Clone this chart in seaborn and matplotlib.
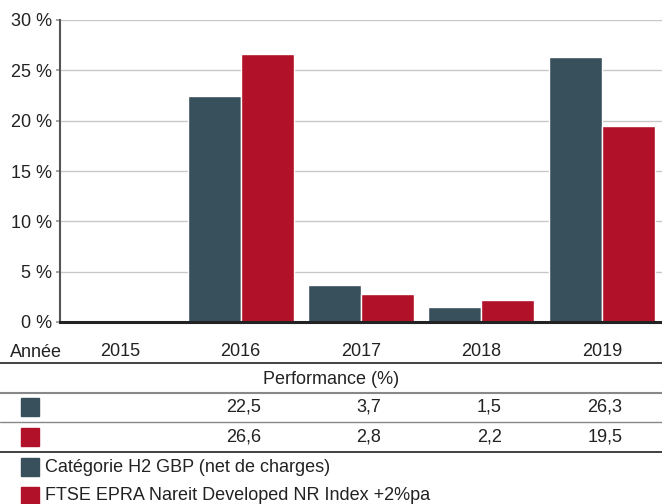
import pandas as pd
import matplotlib.pyplot as plt
import matplotlib.transforms as mtransforms
from matplotlib.lines import Line2D
from matplotlib.patches import Rectangle
import seaborn as sns

# Chart data
years = ['2015', '2016', '2017', '2018', '2019']
fund = [None, 22.5, 3.7, 1.5, 26.3]
index = [None, 26.6, 2.8, 2.2, 19.5]
fund_labels = ['', '22,5', '3,7', '1,5', '26,3']
index_labels = ['', '26,6', '2,8', '2,2', '19,5']
series_names = ['Catégorie H2 GBP (net de charges)',
                'FTSE EPRA Nareit Developed NR Index +2%pa']
colors = ['#384f5c', '#b11229']
yticks = [0, 5, 10, 15, 20, 25, 30]

sns.set_theme(style='white')
plt.rcParams['font.family'] = ['Liberation Sans', 'DejaVu Sans']

# long form table for seaborn (2015 has no values)
rows = []
for yr, a, b in zip(years, fund, index):
    if a is not None:
        rows.append((yr, series_names[0], a))
    if b is not None:
        rows.append((yr, series_names[1], b))
df = pd.DataFrame(rows, columns=['year', 'series', 'value'])

W, H = 662, 504
fig = plt.figure(figsize=(W / 100, H / 100), dpi=100)
ax = fig.add_axes([60 / W, 1 - 322 / H, 602 / W, 302 / H])

sns.barplot(data=df, x='year', y='value', hue='series', order=years,
            hue_order=series_names, palette=colors, width=0.88, saturation=1,
            edgecolor='white', linewidth=1, errorbar=None, legend=False, ax=ax)

ax.set_xlim(-0.5, len(years) - 0.5)
ax.set_ylim(0, 30)
ax.set_yticks(yticks)
ax.set_yticklabels([f'{v} %' for v in yticks])
ax.set_xlabel('')
ax.set_ylabel('')
ax.yaxis.grid(True, color='#c8c8c8', lw=1)
ax.set_axisbelow(True)
for s in ['top', 'right']:
    ax.spines[s].set_visible(False)
ax.spines['left'].set_color('#555555')
ax.spines['left'].set_linewidth(1.5)
ax.spines['bottom'].set_color('#222222')
ax.spines['bottom'].set_linewidth(2.2)
ax.tick_params(axis='y', length=3, color='#999999', labelsize=13, pad=3,
               labelcolor='#222222', left=True)
ax.tick_params(axis='x', length=0, labelsize=13, pad=15, labelcolor='#222222')

# table below the chart
def hline(ypix, color, lw):
    fig.add_artist(Line2D([0, 1], [1 - ypix / H] * 2, color=color, lw=lw,
                          transform=fig.transFigure))

def swatch(ypix, color):
    fig.add_artist(Rectangle((21 / W, 1 - (ypix + 9) / H), 18 / W, 18 / H,
                             color=color, transform=fig.transFigure))

fig.text(10 / W, 1 - 357 / H, 'Année', fontsize=13, va='baseline', color='#222222')
hline(363, '#333333', 1.3)
fig.text(0.5, 1 - 379 / H, 'Performance (%)', fontsize=13, ha='center',
         va='center', color='#222222')
hline(393, '#888888', 1.5)
hline(422, '#888888', 1.0)
hline(452, '#333333', 1.3)

trans = mtransforms.blended_transform_factory(ax.transData, fig.transFigure)
for yp, labels, c in [(407, fund_labels, colors[0]), (437, index_labels, colors[1])]:
    swatch(yp, c)
    for i, lab in enumerate(labels):
        fig.text(i + 0.17, 1 - yp / H, lab, transform=trans, fontsize=13,
                 ha='right', va='center', color='#222222')

# legend rows
for yp, name, c in [(467, series_names[0], colors[0]), (496, series_names[1], colors[1])]:
    swatch(yp, c)
    fig.text(45 / W, 1 - yp / H, name, fontsize=13, va='center', color='#222222')

fig.savefig('out.png', dpi=100)
